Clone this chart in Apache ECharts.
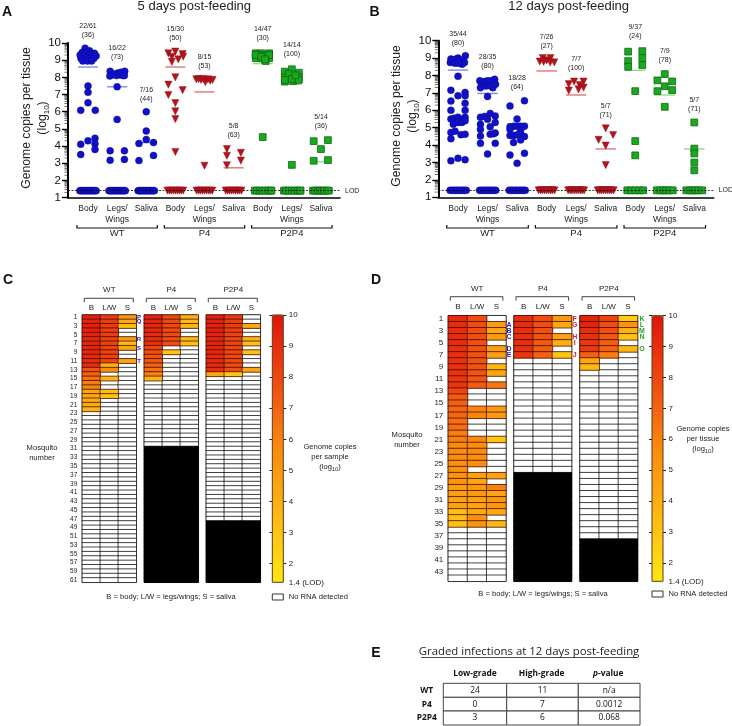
<!DOCTYPE html>
<html><head><meta charset="utf-8">
<style>html,body{margin:0;padding:0;background:#fff}#c{width:732px;height:726px}</style>
<script src="https://cdn.jsdelivr.net/npm/echarts@6/dist/echarts.min.js"></script>
</head><body><div id="c"></div>
<script>
const FONT='Liberation Sans';
const tissues=['Body','Legs/\nWings','Saliva','Body','Legs/\nWings','Saliva','Body','Legs/\nWings','Saliva'];
const genotypes=['WT','P4','P2P4'];
const colorsMark=['#1010c8','#b5121b','#19a81f'];
const colorsMean=['#5f6ae4','#e0504f','#6fd36f'];

// Panel A points: [offset within column, log10 copies]
const a0=[[-.1,9.7],[.05,9.55],[-.2,9.45],[0,9.45],[.12,9.4],[.22,9.4],[-.27,9.3],[-.12,9.3],[.02,9.3],[.15,9.25],[.28,9.25],[-.24,9.1],[-.08,9.15],[.06,9.1],[.2,9.1],[-.18,8.95],[-.02,8.95],[.12,8.95],[0,7.5],[0,7.13],[0,6.52],[-.25,6.08],[.25,6.08],[.24,4.45],[0,4.3],[.24,4.13],[-.25,4.1],[.24,3.8],[-.25,3.5]];
const a1=[[-.24,8.35],[-.25,8.08],[-.15,8.15],[-.08,8.2],[-.02,8.1],[.03,8.25],[.1,8.15],[.14,8.3],[.2,8.1],[.26,8.35],[.25,8.1],[0,7.45],[0,5.55],[-.24,3.72],[.25,3.72],[-.24,3.17],[.25,3.22]];
const a2=[[0,6],[0,4.87],[0,4.38],[-.25,4.15],[.25,4.2],[.25,3.45],[-.25,3.15]];
const a3=[[0,9.5],[-.24,9.4],[.25,9.35],[-.12,9.2],[.1,9.05],[.27,9.2],[-.12,8.9],[0,8],[-.24,7.57],[.25,7.25],[-.24,6.97],[0,6.5],[0,6.02],[0,5.57],[0,3.65]];
const a4=[[-.28,7.88],[-.2,7.9],[-.12,7.85],[-.04,7.9],[.03,7.72],[.12,7.88],[.2,7.8],[.28,7.85],[0,2.85]];
const a5=[[-.23,3.82],[-.23,3.43],[.25,3.6],[.25,3.15],[-.23,2.88]];
const a6=[[-.24,9.4],[-.05,9.4],[.22,9.4],[-.24,9.12],[0,9.1],[.22,9.12],[.1,8.95],[-.12,9.3],[.08,9.25],[-.24,9.3],[.22,9.3],[-.05,9.2],[.08,9.05],[0,4.52]];
const a7=[[0,8.47],[-.24,8.33],[.24,8.27],[-.24,8],[0,8.08],[.24,8],[-.24,7.75],[.05,7.78],[.24,7.85],[-.1,8.2],[-.24,7.85],[0,7.9],[.12,8.12],[0,2.9]];
const a8=[[-.25,4.28],[.24,4.34],[0,3.82],[-.25,3.14],[.24,3.18]];
const aCols=[a0,a1,a2,a3,a4,a5,a6,a7,a8];
const aMeans=[8.6,7.45,4.2,8.6,7.15,2.73,8.8,7.6,3.08];
// Panel A samples at the limit of detection: offsets
const aLod=[
 [-.28,-.24,-.2,-.16,-.12,-.08,-.04,0,.04,.08,.12,.16,.2,.24,.28],
 [-.28,-.24,-.2,-.16,-.12,-.08,-.04,0,.04,.08,.12,.16,.2,.24,.28],
 [-.28,-.24,-.2,-.16,-.12,-.08,-.04,0,.04,.08,.12,.16,.2,.24,.28],
 [-.27,-.2,-.14,-.07,0,.07,.14,.2,.27],
 [-.27,-.2,-.14,-.07,0,.07,.14,.2,.27],
 [-.27,-.2,-.14,-.07,0,.07,.14,.2,.27],
 [-.27,-.2,-.1,0,.1,.2,.27,.3],
 [-.27,-.2,-.1,0,.1,.2,.27,.3],
 [-.27,-.2,-.1,-.04,.04,.1,.2,.27]];
const aCounts=['22/61\n(36)','16/22\n(73)','7/16\n(44)','15/30\n(50)','8/15\n(53)','5/8\n(63)','14/47\n(30)','14/14\n(100)','5/14\n(36)'];

// Panel B points
const b0=[[.25,9.14],[-.24,8.95],[0,9],[-.13,8.85],[.1,8.75],[-.26,8.75],[-.2,8.9],[-.06,8.95],[.05,8.85],[.18,8.9],[.22,8.75],[-.1,8.7],[.14,8.65],[.02,8.7],[0,7.95],[-.24,7.15],[.24,7.03],[0,6.84],[.24,6.84],[-.24,6.53],[.24,6.4],[-.24,6],[.24,6],[-.24,5.5],[-.13,5.55],[0,5.6],[.1,5.48],[.24,5.6],[-.16,5.2],[0,5.3],[.13,5.3],[.24,5.4],[-.24,4.73],[-.1,4.8],[.1,4.6],[.24,4.62],[-.24,4.37],[0,3.24],[.24,3.16],[-.24,3.1]];
const b1=[[-.26,7.7],[-.2,7.5],[-.12,7.65],[-.06,7.4],[0,7.7],[.06,7.5],[.12,7.7],[.18,7.3],[.24,7.78],[.27,7.5],[-.24,7.3],[.1,7.4],[0,6.8],[-.24,5.6],[.09,5.82],[.26,5.67],[-.1,5.65],[-.24,5.2],[0,5.48],[.26,5.3],[-.24,4.9],[.09,5.05],[.26,4.7],[-.24,4.52],[.09,4.63],[.2,4.65],[-.24,4.1],[.26,4.1],[0,3.49]];
const b2=[[-.24,6.25],[.25,6.55],[0,5.5],[-.24,5.05],[-.11,5.09],[0,5.09],[.12,5.09],[.25,5.09],[-.24,4.9],[.12,4.85],[-.24,4.55],[-.11,4.55],[0,4.6],[.12,4.6],[.25,4.5],[.12,4.3],[-.12,4.15],[-.24,3.43],[.25,3.53],[0,2.95]];
const b3=[[-.23,8.8],[-.13,9],[0,8.87],[.13,9],[.26,8.75],[-.1,8.78],[.12,8.75]];
const b4=[[-.25,7.5],[-.07,7.65],[.25,7.65],[.12,7.45],[-.25,7.13],[.25,7.3],[.08,7.2]];
const b5=[[0,4.96],[-.24,4.3],[.25,4.58],[0,3.97],[0,2.85]];
const b6=[[-.24,9.37],[.24,9.4],[.24,9],[-.24,8.83],[-.24,8.5],[.24,8.6],[0,7.1],[0,4.23],[0,3.41]];
const b7=[[0,8.08],[-.25,7.72],[.25,7.66],[0,7.38],[-.25,7.1],[.25,7.16],[0,6.2]];
const b8=[[0,5.3],[0,3.8],[0,3.52],[0,3],[0,2.55]];
const bCols=[b0,b1,b2,b3,b4,b5,b6,b7,b8];
const bMeans=[8.31,6.97,5.2,8.26,6.88,3.78,8.3,6.88,3.78];
const bLod=[
 [-.27,-.2,-.14,-.07,-.02,.04,.1,.16,.22,.28],
 [-.27,-.2,-.14,-.07,-.02,.04,.1,.16,.22,.28],
 [-.27,-.2,-.14,-.07,-.02,.04,.1,.16,.22,.28],
 [-.27,-.2,-.14,-.07,0,.07,.14,.2,.27],
 [-.27,-.2,-.14,-.07,0,.07,.14,.2,.27],
 [-.27,-.2,-.14,-.07,0,.07,.14,.2,.27],
 [-.27,-.14,0,.14,.27],
 [-.27,-.14,-.04,.04,.14,.27],
 [-.27,-.14,-.04,.04,.14,.27]];
const bCounts=['35/44\n(80)','28/35\n(80)','18/28\n(64)','7/26\n(27)','7/7\n(100)','5/7\n(71)','9/37\n(24)','7/9\n(78)','5/7\n(71)'];

const yTicks=[1,2,3,4,5,6,7,8,9];
const logMinor=[2,3,4,5,6,7,8,9];

// Panel C rows per tissue (0 = no RNA detected)
const cCols=['B','L/W','S'];
const cN=[61,30,47];
const cWT=[[9.6,9.5,9.5,9.4,9.4,9.3,9.3,9.3,9.2,9.2,9.1,9.0,7.5,7.1,6.5,6.1,5.9,4.5,4.3,4.2,4.1,3.9],
 [8.4,8.4,8.35,8.3,8.3,8.25,8.2,8.2,8.15,8.1,8.05,3.7,5.55,0,3.7,0,0,3.2,3.2],
 [5,4.4,3.4,0,0,5,3.5,4.4,0,0,4.5]];
const cP4=[[9.4,9.3,9.2,9.1,9.1,9,8.9,8,7.6,7.5,7.3,7,6.5,6,3.7],
 [7.9,7.9,7.9,7.85,7.85,7.8,7.8,0,2.9],
 [3.9,3.5,3.7,0,0,3.6,3.2]];
const cPP=[[9.5,9.5,9.4,9.4,9.4,9.3,9.3,9.3,9.2,9.2,9.1,9.1,9,4.5],
 [8.4,8.3,8.3,8.2,8.1,8.1,8,8,8,7.9,7.9,7.8,7.7,2.9],
 [0,0,4.3,0,0,3.8,3.2,0,3.2,0,0,0,4.4]];
// Panel D
const dN=[44,26,37];
const dWT=[[9.2,9.1,9,9,9,8.9,8.9,8.8,8.8,8.8,8.7,8.7,8,7.2,7.1,6.9,6.9,6.6,6.6,6.1,6.05,5.7,5.6,5.5,5.4,5.4,5.3,5.2,4.8,4.8,4.6,4.6,3.3,3.2,3.15],
 [7.8,7.75,7.7,7.7,7.65,7.6,7.6,7.55,7.5,7.5,7.4,7.3,0,0,0,5.9,5.85,0,0,0,5.7,5.6,5.55,5.5,5.5,0,4.6,4.5,5,5,4.6,4.5,4.1,5.4,5.3],
 [0,5,4.3,4.9,0,4.7,4.7,0,3.6,4.4,0,6.3,0,0,0,5.1,5,0,0,0,3,0,0,0,0,0,4.6,0,6,4.5,5,5.1,4.3,0,3.5]];
const dP4=[[9,9,8.9,8.9,8.9,8.8,8.7],[7.7,7.7,7.6,7.5,7.3,7.2,7.1],[5,4.3,0,4.6,4,0,2.9]];
const dPP=[[9.4,9.4,9,8.8,8.6,8.5,7.1,4.3,3.5],[8.1,7.7,7.7,7.4,7.2,7.1,6.2],[2.6,5.3,3.8,3,0,3.6,0]];

// Panel E
const tableTitle='Graded infections at 12 days post-feeding';
const tableRows=['WT','P4','P2P4'];
const lowGrade=['24','0','3'];
const highGrade=['11','7','6'];
const pValue=['n/a','0.0012','0.068'];

const ramp=['#ffe70f','#fdb814','#fa8a10','#ef4a12','#e0140c'];
const cbarTicks=[1.4,2,3,4,5,6,7,8,9,10];

const grid=[],xAxis=[],yAxis=[],series=[],graphic=[];
function t(x,y,text,size,o){graphic.push({type:'text',x,y,z:50,rotation:(o&&o.rotation)||0,silent:true,style:Object.assign({text,fontSize:size,fontFamily:FONT,fill:'#222',align:'center',verticalAlign:'middle',textAlign:'center',textVerticalAlign:'middle'},o&&o.style)});}
function br(x0,x1,yBar,yEnd,col,w){graphic.push({type:'polyline',z:50,silent:true,shape:{points:[[x0,yEnd],[x0,yBar],[x1,yBar],[x1,yEnd]]},style:{stroke:col||'#222',lineWidth:w||1,fill:null}});}

function scatterPanel(p){
  const gi=grid.length;
  grid.push({left:p.left,width:p.right-p.left,top:p.top,height:p.bottom-p.top});
  const catL=p.c0-p.step/2;
  grid.push({left:catL,width:p.step*9,top:p.top,height:p.bottom-p.top});
  const xi=xAxis.length,yi=yAxis.length;
  const xMin=(p.left-p.c0)/p.step,xMax=(p.right-p.c0)/p.step;
  xAxis.push({gridIndex:gi,type:'value',min:xMin,max:xMax,splitLine:{show:false},axisTick:{show:false},axisLabel:{show:false},axisLine:{show:true,onZero:false,lineStyle:{color:'#000',width:1.6}}});
  xAxis.push({gridIndex:gi+1,type:'category',data:tissues,position:'bottom',axisLine:{show:false},axisTick:{show:false},axisLabel:{interval:0,margin:6,fontSize:8.5,lineHeight:10.6,color:'#222',fontFamily:FONT}});
  xAxis.push({gridIndex:gi+1,type:'category',data:genotypes,position:'bottom',offset:31,axisLine:{show:false},axisTick:{show:false},axisLabel:{interval:0,margin:0,fontSize:9.5,color:'#222',fontFamily:FONT}});
  yAxis.push({gridIndex:gi,type:'value',min:1,max:10,interval:1,splitLine:{show:false},axisLine:{show:true,onZero:false,lineStyle:{color:'#000',width:2}},axisTick:{length:6,lineStyle:{color:'#000',width:1.4}},axisLabel:{margin:7,fontSize:11.5,color:'#111',fontFamily:FONT}});
  yAxis.push({gridIndex:gi+1,type:'value',min:1,max:10,show:false});
  // log minor ticks
  const minor=[];yTicks.forEach(d=>logMinor.forEach(m=>minor.push([xMin,d+Math.log10(m)])));
  series.push({type:'scatter',xAxisIndex:xi,yAxisIndex:yi,data:minor,symbol:'rect',symbolSize:[3.5,.7],symbolOffset:[-1.8,0],clip:false,silent:true,itemStyle:{color:'#000'},z:1,
    markLine:{silent:true,symbol:'none',animation:false,data:[{yAxis:1.4}],lineStyle:{color:'#000',type:[2,1.5],width:.8},label:{show:true,position:'end',distance:5,formatter:'LOD',fontSize:7,color:'#222',fontFamily:FONT}}});
  // mean lines
  [0,1,2].forEach(g=>{
    series.push({type:'scatter',xAxisIndex:xi,yAxisIndex:yi,name:'mean '+genotypes[g],data:p.means.slice(g*3,g*3+3).map((v,i)=>[g*3+i,v]),symbol:'rect',symbolSize:[p.step*.69,1.4],silent:true,itemStyle:{color:colorsMean[g]},z:2});
  });
  const sym=['circle','triangle','rect'],size=[7,7.2,6.8],border=['#0a0a8c','#8a0d12','#0c6a10'];
  [0,1,2].forEach(g=>{
    const data=[];
    for(let c=g*3;c<g*3+3;c++){
      p.cols[c].forEach(d=>data.push([c+d[0],d[1]]));
      p.lod[c].forEach(o=>data.push([c+o,1.4]));
    }
    series.push({type:'scatter',name:genotypes[g],xAxisIndex:xi,yAxisIndex:yi,data,symbol:sym[g],symbolRotate:g==1?180:0,symbolSize:size[g],silent:true,itemStyle:{color:colorsMark[g],borderColor:border[g],borderWidth:g==2?.8:.4,opacity:1},z:3});
  });
  p.counts.forEach((s,i)=>t(p.c0+p.step*i,p.countY[i],s,7,{style:{lineHeight:9}}));
  [0,1,2].forEach(g=>{
    const x0=p.c0+p.step*(3*g)-p.step*.38,x1=p.c0+p.step*(3*g+2)+p.step*.38;
    br(x0,x1,228,225,'#111',1.2);
  });
  t(p.nameX,p.nameY,'Genome copies per tissue\n(log{s|10})',12.2,{rotation:Math.PI/2,style:{lineHeight:16,rich:{s:{fontSize:8,fontFamily:FONT,fill:'#222',verticalAlign:'bottom',lineHeight:16}}}});
  t(p.titleX,6,p.title,13);
}

scatterPanel({left:68,right:340,top:43,bottom:197.5,c0:88,step:29.12,cols:aCols,means:aMeans,lod:aLod,counts:aCounts,
 countY:[30.3,52.5,94.5,33.8,61.2,130.3,33.8,49.8,121.8],nameX:34.8,nameY:118,titleX:194.3,title:'5 days post-feeding'});
scatterPanel({left:438.3,right:713.7,top:40.7,bottom:197.3,c0:458,step:29.54,cols:bCols,means:bMeans,lod:bLod,counts:bCounts,
 countY:[39,61.7,82.8,41.3,64,110.3,31.7,55.5,104.3],nameX:404.3,nameY:116,titleX:568.7,title:'12 days post-feeding'});

const heatSeriesIdx=[[],[]],emptyIdx=[];
function heatPanel(k,p){
  const rows=[];for(let r=1;r<=p.total;r++)rows.push(String(r));
  const rowH=(p.bottom-p.top)/p.total;
  p.groups.forEach((g,gIdx)=>{
    const gi=grid.length,xi=xAxis.length,yi=yAxis.length;
    grid.push({left:g.left,width:p.colW*3,top:p.top,height:p.bottom-p.top,show:true,borderColor:'#111',borderWidth:1,backgroundColor:'#fff',z:4});
    xAxis.push({gridIndex:gi,type:'category',data:cCols,position:'top',axisLine:{show:false},axisTick:{show:false},splitLine:{show:false},axisLabel:{interval:0,margin:p.xMargin,fontSize:8,color:'#222',fontFamily:FONT}});
    yAxis.push({gridIndex:gi,type:'category',data:rows,inverse:true,axisLine:{show:false},axisTick:{show:false},splitLine:{show:false},axisLabel:{show:gIdx==0,interval:1,margin:5,fontSize:p.rowFont,color:'#222',fontFamily:FONT}});
    const vals=[],empty=[];
    g.cols.forEach((col,c)=>{
      for(let r=0;r<p.total;r++){
        const v=r<g.n?(col[r]||0):-1;
        if(v>0)vals.push([c,r,v]);else empty.push([c,r,v]);
      }
    });
    emptyIdx.push(series.length);
    series.push({type:'heatmap',xAxisIndex:xi,yAxisIndex:yi,data:empty,silent:true,z:5,itemStyle:{borderColor:'#000',borderWidth:.7},emphasis:{disabled:true}});
    heatSeriesIdx[k].push(series.length);
    series.push({type:'heatmap',xAxisIndex:xi,yAxisIndex:yi,data:vals,silent:true,z:6,itemStyle:{borderColor:'#3a0a00',borderWidth:.7},emphasis:{disabled:true}});
    t(g.left+p.colW*1.5,p.nameY,genotypes[gIdx],8);
    br(g.left+2,g.left+p.colW*3-3,p.brY,p.brY+4,'#444');
  });
  // colour-bar scale
  const gi=grid.length;
  grid.push({left:p.barL,width:p.barW,top:p.top,height:p.bottom-p.top});
  xAxis.push({gridIndex:gi,type:'category',data:[''],show:false});
  yAxis.push({gridIndex:gi,type:'value',min:1.4,max:10,position:'right',splitLine:{show:false},axisLine:{show:false},
    axisTick:{show:true,customValues:cbarTicks.slice(1),length:3,lineStyle:{color:'#222',width:1}},
    axisLabel:{customValues:cbarTicks,margin:5.5,fontSize:8,color:'#222',fontFamily:FONT,formatter:v=>v==1.4?'1.4 (LOD)':String(v)}});
  grid.push({left:p.barL,width:p.barW,top:p.top,height:p.bottom-p.top});
  xAxis.push({gridIndex:gi+1,type:'category',data:[''],show:false});
  yAxis.push({gridIndex:gi+1,type:'value',min:1.4,max:10,position:'left',splitLine:{show:false},axisLine:{show:false},
    axisTick:{show:true,customValues:cbarTicks.slice(1),length:3,lineStyle:{color:'#222',width:1}},axisLabel:{show:false}});
  graphic.push({type:'rect',z:40,silent:true,shape:{x:p.barL,y:p.top,width:p.barW,height:p.bottom-p.top},style:{fill:null,stroke:'#5a3a10',lineWidth:1}});
  // legend
  graphic.push({type:'rect',z:40,silent:true,shape:{x:p.barL,y:p.legY-3,width:p.barW,height:6},style:{fill:'#fff',stroke:'#333',lineWidth:1}});
  t(p.barL+16.5,p.legY,'No RNA detected',7.6,{style:{align:'left',textAlign:'left'}});
  t(p.footX,p.legY,'B = body; L/W = legs/wings; S = saliva',7.6);
  t(p.mosqX,p.mosqY,'Mosquito\nnumber',7.6,{style:{lineHeight:10}});
  t(p.barNameX,p.barNameY,p.barName,7.6,{style:{lineHeight:10,rich:{s:{fontSize:5.5,fontFamily:FONT,fill:'#222',verticalAlign:'bottom',lineHeight:10}}}});
  p.letters.forEach(l=>t(l.x,p.top+(l.r-.5)*rowH,l.s,p.letterFont,{style:{fontWeight:'bold',fill:l.c}}));
}
const B='#2222cc',R='#d0202a',G='#22a82a';
heatPanel(0,{total:61,top:315,bottom:582.3,colW:18,groups:[{left:82.3,n:cN[0],cols:cWT},{left:144.3,n:cN[1],cols:cP4},{left:206.3,n:cN[2],cols:cPP}],
 xMargin:3.5,rowFont:6.5,nameY:290,brY:298.3,barL:272.3,barW:11,legY:597,footX:171,mosqX:42,mosqY:453,barName:'Genome copies\nper sample\n(log{s|10})',barNameX:330,barNameY:457,letterFont:6,
 letters:[{r:1,s:'P',x:139,c:B},{r:2,s:'Q',x:139,c:B},{r:6,s:'R',x:139,c:B},{r:8,s:'S',x:139,c:B},{r:11,s:'T',x:139,c:B}]});
heatPanel(1,{total:44,top:315.7,bottom:581.3,colW:19.2,groups:[{left:448.3,n:dN[0],cols:dWT},{left:514,n:dN[1],cols:dP4},{left:580,n:dN[2],cols:dPP}],
 xMargin:5,rowFont:8,nameY:289,brY:296.7,barL:652,barW:11,legY:594,footX:543,mosqX:407,mosqY:440,barName:'Genome copies\nper tissue\n(log{s|10})',barNameX:703,barNameY:439,letterFont:7,
 letters:[{r:2,s:'A',x:509,c:B},{r:3,s:'B',x:509,c:B},{r:4,s:'C',x:509,c:B},{r:6,s:'D',x:509,c:B},{r:7,s:'E',x:509,c:B},
 {r:1,s:'F',x:574.7,c:R},{r:2,s:'G',x:574.7,c:R},{r:4,s:'H',x:574.7,c:R},{r:5,s:'I',x:574.7,c:R},{r:7,s:'J',x:574.7,c:R},
 {r:1,s:'K',x:642,c:G},{r:2,s:'L',x:642,c:G},{r:3,s:'M',x:642,c:G},{r:4,s:'N',x:642,c:G},{r:6,s:'O',x:642,c:G}]});

// panel letters
[['A',7,12],['B',374.5,12],['C',8,280],['D',376,280],['E',376,653]].forEach(a=>t(a[1],a[2],a[0],14,{style:{fontWeight:'bold',fill:'#111'}}));

// table E
t(529,651.7,tableTitle,11.4,{style:{fontFamily:'Open Sans'}});
graphic.push({type:'line',z:50,silent:true,shape:{x1:421,y1:657.5,x2:637,y2:657.5},style:{stroke:'#222',lineWidth:.8}});
const tX=[443.3,506.7,578.3,640],tY=[683.3,697.3,711,725];
const headF={fontFamily:'Open Sans',fontWeight:'bold',fill:'#111'};
t(475,674,'Low-grade',8.4,{style:headF});
t(541.7,674,'High-grade',8.4,{style:headF});
t(608.3,674,'{i|p}-value',8.4,{style:Object.assign({rich:{i:{fontStyle:'italic',fontWeight:'bold',fontSize:8.4,fontFamily:'Open Sans',fill:'#111'}}},headF)});
tableRows.forEach((r,i)=>{
  const ym=(tY[i]+tY[i+1])/2;
  t(426.7,ym,r,8.4,{style:headF});
  [lowGrade[i],highGrade[i],pValue[i]].forEach((v,j)=>{
    graphic.push({type:'rect',z:49,silent:true,shape:{x:tX[j],y:tY[i],width:tX[j+1]-tX[j],height:tY[i+1]-tY[i]},style:{fill:'#fff',stroke:'#444',lineWidth:1}});
    t((tX[j]+tX[j+1])/2,ym,v,8.4,{style:{fontFamily:'Open Sans',fill:'#111'}});
  });
});

const chart=echarts.init(document.getElementById('c'),null,{renderer:'canvas',width:732,height:726});
const vm=(idx,l,top,h)=>({type:'continuous',min:1.4,max:10,seriesIndex:idx,left:l,top:top,itemWidth:11,itemHeight:h,text:null,padding:0,calculable:false,realtime:false,hoverLink:false,inRange:{color:ramp},textStyle:{fontSize:0,color:'transparent'},showLabel:false,formatter:()=>''});
chart.setOption({animation:false,backgroundColor:'#fff',textStyle:{fontFamily:FONT},
 grid,xAxis,yAxis,series,graphic,
 visualMap:[vm(heatSeriesIdx[0],272.3,315,267.3),vm(heatSeriesIdx[1],652,315.7,265.6),
  {type:'piecewise',show:false,seriesIndex:emptyIdx,pieces:[{value:0,color:'#fff'},{value:-1,color:'#000'}]}]
});
</script></body></html>
